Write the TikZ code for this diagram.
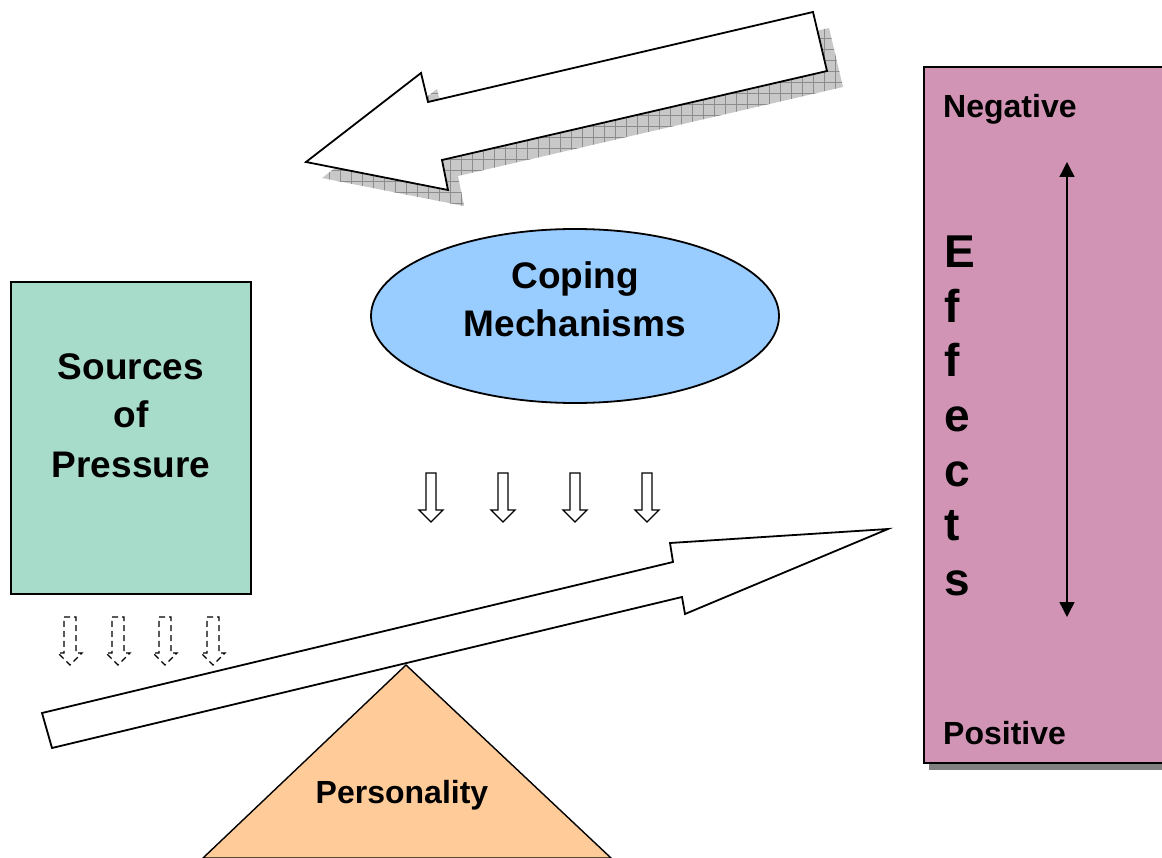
\documentclass[tikz,border=0pt]{standalone}
\usepackage{fontspec}
\setmainfont{Liberation Sans}
\usetikzlibrary{arrows.meta,shapes.geometric}
\definecolor{srcfill}{HTML}{A8DCCA}
\definecolor{copfill}{HTML}{99CCFF}
\definecolor{efffill}{HTML}{D194B5}
\definecolor{perfill}{HTML}{FFCC99}
\definecolor{shadowgray}{HTML}{808080}
\definecolor{hatchfill}{HTML}{C8C8C8}
\definecolor{hatchline}{HTML}{8C8C8C}
\tikzset{
  outline/.style={draw=black, line width=1.8pt, line join=miter},
  bigtext/.style={font=\fontsize{37}{44}\selectfont\bfseries, inner sep=0pt, anchor=base},
  midtext/.style={font=\fontsize{32}{38}\selectfont\bfseries, inner sep=0pt},
  efftext/.style={font=\fontsize{46}{55}\selectfont\bfseries, inner sep=0pt, anchor=base west},
  hollowarrow/.style={draw=black, line width=1.4pt, fill=white},
  dasharrow/.style={draw=black, line width=1.3pt, dash pattern=on 6pt off 4pt}
}
\begin{document}
\begin{tikzpicture}[x=1pt, y=-1pt]
\useasboundingbox (0,0) rectangle (1162,858);

% hatched drop shadow of the upper arrow
\begin{scope}[shift={(16,16)}]
  \clip (813,12) -- (827,71) -- (442,160) -- (448,190) -- (306,162) -- (421,73) -- (428,102) -- cycle;
  \fill[hatchfill] (280,0) rectangle (880,240);
  \foreach \gx in {280,291,...,880}
    \draw[hatchline, line width=0.7pt] (\gx,0) -- (\gx,240);
  \foreach \gy in {0,11,...,240}
    \draw[hatchline, line width=0.7pt] (280,\gy) -- (880,\gy);
\end{scope}
% upper arrow, pointing back to the coping mechanisms
\draw[outline, fill=white] (813,12) -- (827,71) -- (442,160) -- (448,190) -- (306,162) -- (421,73) -- (428,102) -- cycle;

% sources of pressure
\node[outline, fill=srcfill, minimum width=240pt, minimum height=312pt, inner sep=0pt] (src) at (131,438) {};
\node[bigtext] (srcA) at (131,380) {Sources};
\node[bigtext] (srcB) at (131,428) {of};
\node[bigtext] (srcC) at (131,477) {Pressure};

% coping mechanisms
\node[outline, ellipse, fill=copfill, minimum width=408pt, minimum height=174pt, inner sep=0pt] (coping) at (575,316) {};
\node[bigtext] (copA) at (575,289) {Coping};
\node[bigtext] (copB) at (575,337) {Mechanisms};

% effects scale
\fill[shadowgray] (929,73) rectangle (1180,770);
\node[outline, fill=efffill, minimum width=260pt, minimum height=696pt, inner sep=0pt, anchor=north west] (effects) at (923,66) {};
\node[midtext, anchor=base west] (neg) at (943,118) {Negative};
\node[midtext, anchor=base west] (pos) at (943,744) {Positive};
\foreach \l [count=\i] in {E,f,f,e,c,t,s}
  \node[efftext] (eff\i) at (944,{268+54.5*(\i-1)}) {\l};
\coordinate (scaletop) at (1067,162);
\coordinate (scalebot) at (1067,617);
\draw[line width=1.4pt, {Triangle[width=15pt,length=15pt]}-{Triangle[width=15pt,length=15pt]}] (scaletop) -- (scalebot);

% personality fulcrum
\draw[draw=black, line width=1.4pt, fill=perfill] (203,858) -- (406,665) -- (611,858) -- cycle;
\node[midtext, anchor=base] (pers) at (402,803) {Personality};

% lever arrow resting on the fulcrum
\draw[outline, fill=white] (42,713) -- (673,562) -- (670,543) -- (888,529) -- (685,614) -- (682,597) -- (52,748) -- cycle;

% hollow arrows below the coping mechanisms
\foreach \x in {431,503,575,647}
  \draw[hollowarrow] (\x-5,473) -- (\x+5,473) -- (\x+5,510) -- (\x+12,510) -- (\x,522) -- (\x-12,510) -- (\x-5,510) -- cycle;

% dashed arrows below the sources of pressure
\foreach \x in {70,118,165,213}
  \draw[dasharrow] (\x-6,617) -- (\x+6,617) -- (\x+6,653) -- (\x+12,653) -- (\x,665) -- (\x-12,653) -- (\x-6,653) -- cycle;
\end{tikzpicture}
\end{document}
